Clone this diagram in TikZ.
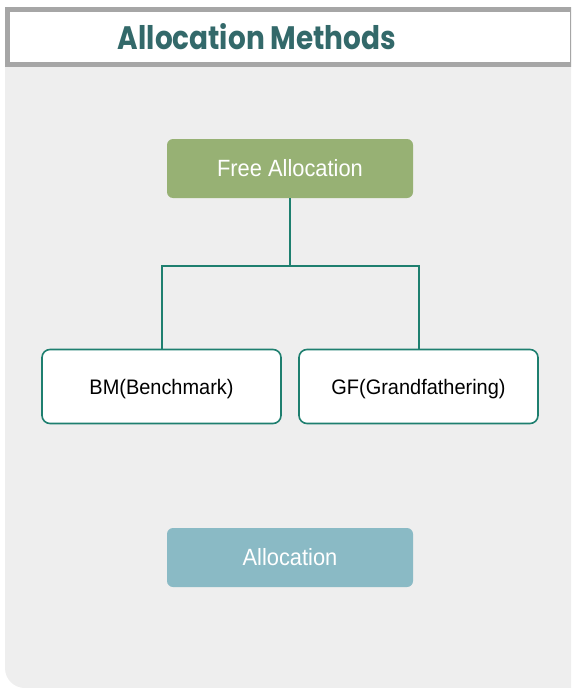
\documentclass[tikz,border=0pt]{standalone}
\usepackage{fontspec}
\setmainfont{Liberation Sans}
\newfontfamily\titlefont{Poppins}
\usetikzlibrary{positioning}
\definecolor{panelgray}{HTML}{EEEEEE}
\definecolor{framegray}{HTML}{A6A6A6}
\definecolor{titleteal}{HTML}{33696A}
\definecolor{lineteal}{HTML}{1E7F6F}
\definecolor{freegreen}{HTML}{97B174}
\definecolor{allocblue}{HTML}{8ABAC5}
\newcommand{\filledtext}[1]{\scalebox{0.93}[1]{#1}}
\newcommand{\methodtext}[1]{\raisebox{-2.3pt}[\height][\depth]{\scalebox{0.95}[1]{#1}}}
\tikzset{
  x=1pt, y=-1pt,
  filledbox/.style={rounded corners=6pt, minimum width=246pt, minimum height=59pt,
    text=white, font=\fontsize{23.5}{25}\selectfont, inner sep=0pt},
  methodbox/.style={draw=lineteal, line width=1.6pt, fill=white, rounded corners=8pt,
    minimum width=239pt, minimum height=74pt, font=\fontsize{21}{23}\selectfont, inner sep=0pt},
  connector/.style={draw=lineteal, line width=2pt},
}
\begin{document}
\begin{tikzpicture}
\useasboundingbox (0,0) rectangle (571,688);
\clip (0,0) rectangle (571,688);
\fill[white] (0,0) rectangle (571,688);
% panel
\fill[panelgray, rounded corners=20pt] (5,40) rectangle (640,688);
% title frame
\filldraw[fill=white, draw=framegray, line width=5pt] (7.5,9.5) rectangle (572.5,64.5);
\node[text=titleteal, inner sep=0pt, anchor=base] (title) at (257,49)
  {\resizebox{278pt}{26pt}{\titlefont\bfseries Allocation Methods}};
% nodes
\node[filledbox, fill=freegreen] (free) at (290,168.5) {\filledtext{Free Allocation}};
\node[methodbox] (bm) at (161.5,386.5) {\methodtext{BM(Benchmark)}};
\node[methodbox] (gf) at (418.5,386.5) {\methodtext{GF(Grandfathering)}};
\node[filledbox, fill=allocblue] (alloc) at (290,557.5) {\filledtext{Allocation}};
% connectors
\coordinate (j) at (290,266);
\draw[connector] (free.south) -- (j) -| (bm.north);
\draw[connector] (j) -| (gf.north);
\end{tikzpicture}
\end{document}
